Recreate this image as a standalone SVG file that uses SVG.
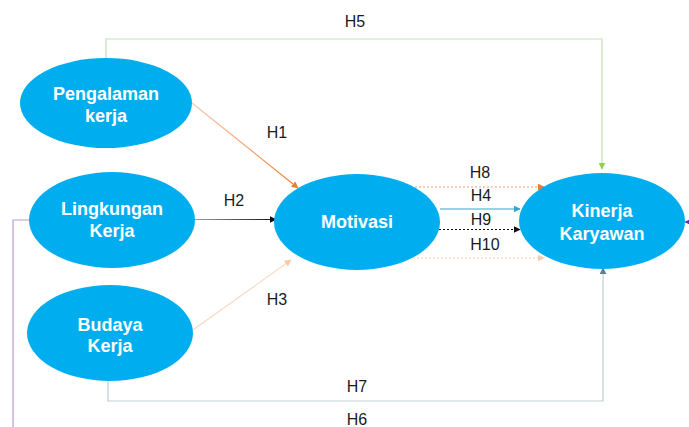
<svg xmlns="http://www.w3.org/2000/svg" width="689" height="427" viewBox="0 0 689 427">
<style>
.node{fill:#00AEEF;}
.nt{font-family:"Liberation Sans",Arial,sans-serif;font-weight:bold;font-size:18px;fill:#FFFFFF;text-anchor:middle;}
.lbl{font-family:"Liberation Sans",Arial,sans-serif;font-size:16px;fill:#1a1a1a;text-anchor:middle;}
.c{fill:none;stroke-width:1.2;}
</style>
<defs>
<marker id="aOr" viewBox="0 0 10 10" refX="9" refY="5" markerWidth="7" markerHeight="7" markerUnits="userSpaceOnUse" orient="auto"><path d="M0,0L10,5L0,10z" fill="#ED7D31"/></marker>
<marker id="aBk" viewBox="0 0 10 10" refX="9" refY="5" markerWidth="7" markerHeight="7" markerUnits="userSpaceOnUse" orient="auto"><path d="M0,0L10,5L0,10z" fill="#111111"/></marker>
<marker id="aPe" viewBox="0 0 10 10" refX="9" refY="5" markerWidth="7" markerHeight="7" markerUnits="userSpaceOnUse" orient="auto"><path d="M0,0L10,5L0,10z" fill="#F8CBAD"/></marker>
<marker id="aTe" viewBox="0 0 10 10" refX="9" refY="5" markerWidth="7" markerHeight="7" markerUnits="userSpaceOnUse" orient="auto"><path d="M0,0L10,5L0,10z" fill="#2FA8C8"/></marker>
<marker id="aGr" viewBox="0 0 10 10" refX="9" refY="5" markerWidth="7" markerHeight="7" markerUnits="userSpaceOnUse" orient="auto"><path d="M0,0L10,5L0,10z" fill="#92D050"/></marker>
<marker id="aGy" viewBox="0 0 10 10" refX="9" refY="5" markerWidth="7" markerHeight="7" markerUnits="userSpaceOnUse" orient="auto"><path d="M0,0L10,5L0,10z" fill="#5F7F8A"/></marker>
<marker id="aPu" viewBox="0 0 10 10" refX="9" refY="5" markerWidth="7" markerHeight="7" markerUnits="userSpaceOnUse" orient="auto"><path d="M0,0L10,5L0,10z" fill="#7030A0"/></marker>
<linearGradient id="gH1" gradientUnits="userSpaceOnUse" x1="192" y1="103" x2="298" y2="188"><stop offset="0" stop-color="#F8CBAD"/><stop offset="1" stop-color="#ED7D31"/></linearGradient>
<linearGradient id="gH2" gradientUnits="userSpaceOnUse" x1="195" y1="220" x2="275" y2="220"><stop offset="0" stop-color="#A0A0A0"/><stop offset="1" stop-color="#111111"/></linearGradient>
</defs>
<g id="connectors">
<path id="H5" class="c" d="M106,58 V39 H602 V169" stroke="#C5E0B4" stroke-width="1.5" marker-end="url(#aGr)"/>
<path id="H7" class="c" d="M108,380 V401 H603 V268" stroke="#BFCFD3" stroke-width="1.5" marker-end="url(#aGy)"/>
<path id="H6" class="c" d="M30,220 H13 V440 H700 V222 H685" stroke="#B99AD8" marker-end="url(#aPu)"/>
<path id="H1" class="c" d="M192,103 L298,188" stroke="url(#gH1)" marker-end="url(#aOr)"/>
<path id="H2" class="c" d="M195,219.5 L276,219.5" stroke="url(#gH2)" marker-end="url(#aBk)"/>
<path id="H3" class="c" d="M190,332 L291,260" stroke="#F8D9C3" marker-end="url(#aPe)"/>
<path id="H8" class="c" d="M415,187 L544,187" stroke="#F0A070" stroke-dasharray="2,2" stroke-width="0.9" marker-end="url(#aOr)"/>
<path id="H4" class="c" d="M440,209 L520,209" stroke="#2FA8C8" marker-end="url(#aTe)"/>
<path id="H9" class="c" d="M439,229.5 L520,229.5" stroke="#111111" stroke-dasharray="2,2" stroke-width="0.9" marker-end="url(#aBk)"/>
<path id="H10" class="c" d="M413,258 L544,258" stroke="#F8CBAD" stroke-dasharray="2,2" stroke-width="0.9" marker-end="url(#aPe)"/>
</g>
<g id="labels">
<text class="lbl" x="355" y="27">H5</text>
<text class="lbl" x="277" y="138">H1</text>
<text class="lbl" x="234" y="206">H2</text>
<text class="lbl" x="277" y="305">H3</text>
<text class="lbl" x="480" y="178">H8</text>
<text class="lbl" x="481" y="201">H4</text>
<text class="lbl" x="481" y="225">H9</text>
<text class="lbl" x="485" y="250">H10</text>
<text class="lbl" x="357" y="392">H7</text>
<text class="lbl" x="357" y="425">H6</text>
</g>
<g id="pengalaman">
<ellipse class="node" cx="106" cy="103" rx="86" ry="45"/>
<text class="nt" x="106" y="100">Pengalaman</text>
<text class="nt" x="106" y="122">kerja</text>
</g>
<g id="lingkungan">
<ellipse class="node" cx="112" cy="220" rx="83" ry="48"/>
<text class="nt" x="112" y="215">Lingkungan</text>
<text class="nt" x="112" y="237">Kerja</text>
</g>
<g id="budaya">
<ellipse class="node" cx="110" cy="333" rx="83" ry="48"/>
<text class="nt" x="110" y="331">Budaya</text>
<text class="nt" x="110" y="352">Kerja</text>
</g>
<g id="motivasi">
<ellipse class="node" cx="357" cy="222" rx="83" ry="48"/>
<text class="nt" x="357" y="228">Motivasi</text>
</g>
<g id="kinerja">
<ellipse class="node" cx="602" cy="221" rx="83" ry="48"/>
<text class="nt" x="602" y="217">Kinerja</text>
<text class="nt" x="602" y="240">Karyawan</text>
</g>
</svg>
